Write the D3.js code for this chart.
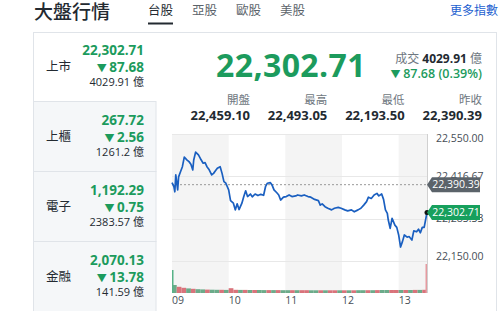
<!DOCTYPE html>
<html>
  <head>
    <meta charset="utf-8">
    <style>
      html,
      body { margin: 0; background: #fff; }
      svg { display: block; font-family: "Open Sans", "Noto Sans CJK TC", sans-serif; }
    </style>
    <script src="https://d3js.org/d3.v7.js"></script>
  </head>
  <body>
    <svg class="chart"></svg>

    <script>
      const width = 500;
      const height = 311;

      // header tabs
      const tabs = ['台股', '亞股', '歐股', '美股'];

      // left index list
      const indexNames = ['上市', '上櫃', '電子', '金融'];
      const indexValues = [22302.71, 267.72, 1192.29, 2070.13];
      const indexChanges = [-87.68, -2.56, -0.75, -13.78];
      const indexTurnover = ['4029.91', '1261.2', '2383.57', '141.59'];

      // main quote
      const lastPrice = 22302.71;
      const lastChange = -87.68;
      const lastPct = 0.39;
      const turnover = '4029.91';
      const statLabels = ['開盤', '最高', '最低', '昨收'];
      const statValues = [22459.10, 22493.05, 22193.50, 22390.39];
      const prevClose = 22390.39;

      // intraday series
      const times = [
        '09:00', '09:02', '09:03', '09:04', '09:06', '09:07', '09:09', '09:11', '09:13', '09:16',
        '09:18', '09:20', '09:22', '09:23', '09:25', '09:28', '09:30', '09:33', '09:35', '09:37',
        '09:39', '09:42', '09:44', '09:46', '09:48', '09:51', '09:53', '09:55', '09:57', '10:00',
        '10:02', '10:05', '10:07', '10:09', '10:11', '10:14', '10:16', '10:18', '10:20', '10:23',
        '10:25', '10:28', '10:31', '10:34', '10:37', '10:39', '10:41', '10:44', '10:46', '10:48',
        '10:51', '10:53', '10:55', '10:58', '11:01', '11:04', '11:07', '11:11', '11:13', '11:17',
        '11:20', '11:24', '11:27', '11:31', '11:35', '11:37', '11:39', '11:42', '11:45', '11:49',
        '11:52', '11:56', '11:59', '12:03', '12:06', '12:10', '12:13', '12:17', '12:20', '12:23',
        '12:26', '12:28', '12:31', '12:34', '12:37', '12:39', '12:42', '12:44', '12:46', '12:48',
        '12:49', '12:51', '12:53', '12:56', '12:58', '13:00', '13:02', '13:04', '13:06', '13:09',
        '13:11', '13:14', '13:16', '13:19', '13:21', '13:23', '13:25', '13:27', '13:30'
      ];
      const prices = [
        22397, 22384, 22368, 22421, 22374, 22415, 22431, 22447, 22477, 22468,
        22463, 22455, 22437, 22468, 22493, 22484, 22473, 22458, 22460, 22447,
        22439, 22421, 22426, 22434, 22442, 22447, 22426, 22400, 22395, 22374,
        22340, 22332, 22311, 22330, 22312, 22332, 22353, 22371, 22353, 22361,
        22352, 22361, 22356, 22360, 22357, 22384, 22395, 22397, 22389, 22374,
        22365, 22358, 22342, 22351, 22353, 22358, 22353, 22355, 22358, 22355,
        22358, 22353, 22351, 22344, 22340, 22326, 22330, 22321, 22316, 22311,
        22316, 22319, 22316, 22311, 22308, 22311, 22305, 22311, 22316, 22326,
        22337, 22351, 22347, 22358, 22363, 22355, 22361, 22344, 22311, 22300,
        22279, 22253, 22284, 22263, 22256, 22232, 22194, 22211, 22232, 22225,
        22227, 22216, 22245, 22242, 22250, 22239, 22256, 22256, 22302.71
      ];

      // volume: opening auction, 5-minute buckets 09:00 .. 13:25, closing auction
      const openVolume = 230;
      const volumes = [
        80, 62, 52, 46, 42, 38, 36, 34, 33, 32, 32, 31,
        48, 32, 31, 31, 30, 30, 30, 29, 29, 29, 29, 28,
        28, 28, 28, 28, 28, 27, 27, 27, 27, 27, 27, 27,
        27, 27, 27, 28, 28, 28, 28, 29, 30, 30, 30, 30,
        30, 30, 30, 31, 31, 32
      ];
      const volumeDirs = [
        'd', 'u', 'u', 'd', 'u', 'd', 'd', 'u', 'd', 'd', 'u', 'd',
        'u', 'u', 'd', 'u', 'd', 'u', 'd', 'd', 'u', 'd', 'u', 'd',
        'd', 'u', 'd', 'u', 'u', 'd', 'd', 'u', 'd', 'u', 'u', 'd',
        'u', 'd', 'u', 'd', 'd', 'u', 'd', 'u', 'd', 'd', 'u', 'u',
        'd', 'u', 'd', 'u', 'd', 'u'
      ];
      const closeVolume = 290;

      const yDomain = [22150, 22550];

      const green = '#1c9b5d';
      const dark = '#232a31';
      const gray = '#6e7780';

      const fmt = d3.format(',.2f');
      const parseTime = d3.timeParse('%H:%M');
      const series = times.map((t, i) => ({ t: parseTime(t), v: prices[i] }));

      const svg = d3.select('svg')
        .attr('width', width)
        .attr('height', height);

      // ---- header ----
      svg.append('text')
        .attr('x', 34)
        .attr('y', 19)
        .style('font-size', '19px')
        .style('font-weight', 500)
        .style('fill', dark)
        .text('大盤行情');

      svg.selectAll('text.tab')
        .data(tabs)
        .join('text')
        .attr('class', 'tab')
        .attr('x', (d, i) => 148 + i * 44)
        .attr('y', 15)
        .style('font-size', '12.5px')
        .style('fill', (d, i) => (i === 0 ? dark : '#5b636a'))
        .text((d) => d);

      svg.append('rect')
        .attr('x', 148)
        .attr('y', 22.5)
        .attr('width', 25)
        .attr('height', 2)
        .style('fill', dark);

      svg.append('text')
        .attr('x', 498)
        .attr('y', 15)
        .attr('text-anchor', 'end')
        .style('font-size', '12px')
        .style('fill', '#1d5fd0')
        .text('更多指數');

      // ---- panel frame ----
      const border = '#e0e4e9';
      svg.append('rect')
        .attr('x', 33.5)
        .attr('y', 32.5)
        .attr('width', 463)
        .attr('height', 300)
        .style('fill', 'none')
        .style('stroke', border);

      // ---- left list ----
      const rowTop = (i) => 31 + i * 70;
      const rowMid = (i) => 67 + i * 70;

      const rows = svg.selectAll('g.row')
        .data(indexNames)
        .join('g')
        .attr('class', 'row');

      rows.filter((d, i) => i > 0)
        .append('rect')
        .attr('x', 33.5)
        .attr('y', (d) => rowTop(indexNames.indexOf(d)) + 0.5)
        .attr('width', 122.5)
        .attr('height', 70)
        .style('fill', '#f5f7f9')
        .style('stroke', border);

      rows.append('text')
        .attr('x', 46)
        .attr('y', (d, i) => rowMid(i))
        .attr('dy', '0.35em')
        .style('font-size', '12.5px')
        .style('fill', dark)
        .text((d) => d);

      rows.append('text')
        .attr('x', 144)
        .attr('y', (d, i) => rowMid(i) - 16.5)
        .attr('dy', '0.35em')
        .attr('text-anchor', 'end')
        .style('font-size', '13.5px')
        .style('font-weight', 700)
        .style('fill', green)
        .text((d, i) => fmt(indexValues[i]));

      const rowChg = rows.append('text')
        .attr('x', 144)
        .attr('y', (d, i) => rowMid(i))
        .attr('dy', '0.35em')
        .attr('text-anchor', 'end')
        .style('font-size', '13.5px')
        .style('font-weight', 700)
        .style('fill', green);
      rowChg.append('tspan')
        .style('font-size', '10px')
        .text('▼ ');
      rowChg.append('tspan')
        .text((d, i) => fmt(Math.abs(indexChanges[i])));

      rows.append('text')
        .attr('x', 144)
        .attr('y', (d, i) => rowMid(i) + 15.5)
        .attr('dy', '0.35em')
        .attr('text-anchor', 'end')
        .style('font-size', '11px')
        .style('fill', dark)
        .text((d, i) => indexTurnover[i] + ' 億');

      // ---- main quote ----
      svg.append('text')
        .attr('x', 291)
        .attr('y', 77)
        .attr('text-anchor', 'middle')
        .style('font-size', '32px')
        .style('font-weight', 700)
        .style('letter-spacing', '0.4px')
        .style('fill', green)
        .text(fmt(lastPrice));

      const vol = svg.append('text')
        .attr('x', 482)
        .attr('y', 59)
        .attr('dy', '0.35em')
        .attr('text-anchor', 'end')
        .style('font-size', '12px')
        .style('fill', gray);
      vol.append('tspan').text('成交 ');
      vol.append('tspan').style('fill', dark).style('font-weight', 700).text(turnover);
      vol.append('tspan').text(' 億');

      const chg = svg.append('text')
        .attr('x', 482)
        .attr('y', 74)
        .attr('dy', '0.35em')
        .attr('text-anchor', 'end')
        .style('font-size', '12.5px')
        .style('font-weight', 600)
        .style('fill', green);
      chg.append('tspan').style('font-size', '10px').text('▼ ');
      chg.append('tspan').text(`${fmt(Math.abs(lastChange))} (${lastPct.toFixed(2)}%)`);

      const stats = svg.selectAll('g.stat')
        .data(statLabels)
        .join('g')
        .attr('class', 'stat')
        .attr('transform', (d, i) => `translate(${250 + i * 77.3},0)`);

      stats.append('text')
        .attr('y', 99.5)
        .attr('dy', '0.35em')
        .attr('text-anchor', 'end')
        .style('font-size', '11.5px')
        .style('fill', gray)
        .text((d) => d);

      stats.append('text')
        .attr('y', 115)
        .attr('dy', '0.35em')
        .attr('text-anchor', 'end')
        .style('font-size', '13px')
        .style('font-weight', 700)
        .style('fill', dark)
        .text((d, i) => fmt(statValues[i]));

      // ---- chart ----
      const plotTop = 134;
      const priceBottom = 261;
      const volBottom = 293;

      const x = d3.scaleTime()
        .domain([parseTime('09:00'), parseTime('13:30')])
        .range([172, 427]);

      const y = d3.scaleLinear()
        .domain(yDomain)
        .range([priceBottom, plotTop]);

      const yVol = d3.scaleLinear()
        .domain([0, closeVolume])
        .range([volBottom, volBottom - 29]);

      // alternating hour bands
      const hours = d3.timeHour.range(parseTime('09:00'), parseTime('13:30'));
      svg.selectAll('rect.band')
        .data(hours.filter((d, i) => i % 2 === 0))
        .join('rect')
        .attr('class', 'band')
        .attr('x', (d) => x(d))
        .attr('y', plotTop)
        .attr('width', (d) => Math.min(x(d3.timeHour.offset(d, 1)), x.range()[1]) - x(d))
        .attr('height', volBottom - plotTop)
        .style('fill', '#f4f4f4');

      // horizontal grid
      const yTicks = d3.range(4).map((i) => yDomain[0] + (i * (yDomain[1] - yDomain[0])) / 3);
      svg.selectAll('line.grid')
        .data(yTicks)
        .join('line')
        .attr('class', 'grid')
        .attr('x1', x.range()[0])
        .attr('x2', x.range()[1])
        .attr('y1', (d) => Math.round(y(d)) + 0.5)
        .attr('y2', (d) => Math.round(y(d)) + 0.5)
        .style('stroke', '#e8e8e8');

      // volume bars
      const step = x(parseTime('09:05')) - x(parseTime('09:00'));
      svg.selectAll('rect.vol')
        .data(volumes)
        .join('rect')
        .attr('class', 'vol')
        .attr('x', (d, i) => x(d3.timeMinute.offset(x.domain()[0], i * 5)))
        .attr('y', (d) => yVol(d))
        .attr('width', step)
        .attr('height', (d) => volBottom - yVol(d))
        .style('fill', (d, i) => (volumeDirs[i] === 'u' ? '#d9737b' : '#6cab8a'));

      svg.append('rect')
        .attr('x', x.range()[0])
        .attr('y', yVol(openVolume))
        .attr('width', 1.5)
        .attr('height', volBottom - yVol(openVolume))
        .style('fill', '#57b287');

      svg.append('rect')
        .attr('x', x.range()[1] - 1.5)
        .attr('y', yVol(closeVolume))
        .attr('width', 1.5)
        .attr('height', volBottom - yVol(closeVolume))
        .style('fill', '#e59aa0');

      // right edge line
      svg.append('line')
        .attr('x1', x.range()[1] + 0.5)
        .attr('x2', x.range()[1] + 0.5)
        .attr('y1', plotTop)
        .attr('y2', volBottom)
        .style('stroke', '#d0d0d0');

      // y labels
      svg.selectAll('text.ylab')
        .data(yTicks)
        .join('text')
        .attr('class', 'ylab')
        .attr('x', x.range()[1] + 9)
        .attr('y', (d) => Math.max(138.5, Math.min(256, y(d))))
        .attr('dy', '0.35em')
        .style('font-size', '10.5px')
        .style('fill', '#464e56')
        .text((d) => fmt(d));

      // x labels
      svg.selectAll('text.xlab')
        .data(hours)
        .join('text')
        .attr('class', 'xlab')
        .attr('x', (d) => x(d))
        .attr('y', 300.5)
        .attr('dy', '0.35em')
        .style('font-size', '10.5px')
        .style('fill', '#464e56')
        .text(d3.timeFormat('%H'));

      // previous close
      svg.append('line')
        .attr('x1', x.range()[0])
        .attr('x2', x.range()[1])
        .attr('y1', y(prevClose))
        .attr('y2', y(prevClose))
        .style('stroke', '#999')
        .style('stroke-dasharray', '2,2');

      // price line
      const line = d3.line()
        .x((d) => x(d.t))
        .y((d) => y(d.v));

      svg.append('path')
        .datum(series)
        .attr('d', line)
        .style('fill', 'none')
        .style('stroke', '#1a5fc0')
        .style('stroke-width', 1.7)
        .style('stroke-linejoin', 'round');

      const lastPt = series[series.length - 1];
      svg.append('circle')
        .attr('cx', x(lastPt.t))
        .attr('cy', y(lastPt.v))
        .attr('r', 2.5)
        .style('fill', '#111');

      // value tags
      const tags = [
        { v: prevClose, fill: '#5b636a' },
        { v: lastPrice, fill: '#17a05d' }
      ];
      const tag = svg.selectAll('g.tag')
        .data(tags)
        .join('g')
        .attr('class', 'tag')
        .attr('transform', (d) => `translate(${x.range()[1]},${y(d.v)})`);

      tag.append('path')
        .attr('d', 'M0,0 L5,-7.5 L53,-7.5 L53,7.5 L5,7.5 Z')
        .style('fill', (d) => d.fill);

      tag.append('text')
        .attr('x', 29)
        .attr('dy', '0.35em')
        .attr('text-anchor', 'middle')
        .style('font-size', '10.5px')
        .style('fill', '#fff')
        .text((d) => fmt(d.v));
    </script>
  </body>
</html>
